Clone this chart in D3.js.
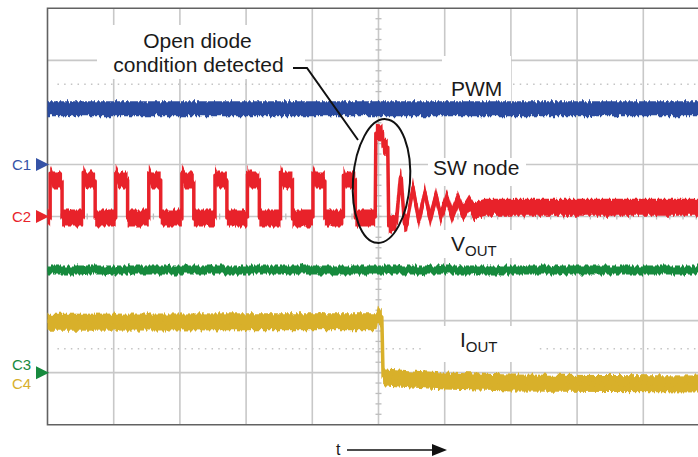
<!DOCTYPE html>
<html>
<head>
<meta charset="utf-8">
<script src="https://cdn.jsdelivr.net/npm/d3@7"></script>
<style>
    body { margin: 0; background: #fff; }
    svg { display: block; font-family: 'Liberation Sans', Arial, Helvetica, sans-serif; }
</style>
</head>
<body>
<svg id="scope"></svg>
<script>
const width = 698;
const height = 457;

// time in screen divisions (0..10), level in divisions (-4..4)
const pwmTrace = [[0, 2.07], [10, 2.07]];
const voutTrace = [[0, -1.03], [10, -1.03]];
const ioutTrace = [
    [0, -2.03], [4.97, -2.02], [4.99, -1.88], [5.05, -1.95], [5.07, -3.08],
    [5.5, -3.12], [6.0, -3.16], [7.0, -3.2], [8.5, -3.21], [10, -3.22]
];

const swLow = -0.03;
const swHigh = 0.7;
const swOvershoot = 0.83;
const pulseStarts = [0.04, 0.54, 1.03, 1.53, 2.03, 2.53, 3.02, 3.52, 4.01, 4.47];
const pulseWidth = 0.18;
const faultTimes = [
    4.95, 4.96, 5.06, 5.07, 5.14, 5.155, 5.27, 5.33, 5.345, 5.39, 5.43,
    5.52, 5.61, 5.70, 5.78, 5.87, 5.94, 6.03, 6.11, 6.20, 6.28, 6.37, 6.44, 6.61, 10
];
const faultLevels = [
    swLow, 1.62, 1.6, 1.33, 1.33, -0.18, -0.1, 0.74, 0.74, -0.16, -0.14,
    0.57, -0.1, 0.47, -0.05, 0.41, -0.01, 0.36, 0.03, 0.32, 0.07, 0.26, 0.11, 0.18, 0.18
];

const channelMarkers = [
    { names: ['C1'], colors: ['#3553a6'], level: 1, arrow: '#3553a6' },
    { names: ['C2'], colors: ['#e8242b'], level: 0, arrow: '#e8242b' },
    { names: ['C3', 'C4'], colors: ['#178a3e', '#d8b02c'], level: -3, arrow: '#178a3e' }
];

const traceColors = { pwm: '#2b4c9f', sw: '#e8242b', vout: '#178a3e', iout: '#d8b02c' };

const svg = d3.select('#scope')
    .attr('width', width)
    .attr('height', height);

const xScale = d3.scaleLinear().domain([0, 10]).range([47.5, 709.5]);
const yScale = d3.scaleLinear().domain([-4, 4]).range([424.7, 8.3]);

// grid
const grid = svg.append('g');

grid.selectAll('line.v')
    .data(d3.range(1, 10))
    .enter()
    .append('line')
    .attr('x1', d => xScale(d)).attr('x2', d => xScale(d))
    .attr('y1', yScale(4)).attr('y2', yScale(-4))
    .attr('stroke', '#c8c8c8').attr('stroke-width', 1.6);

grid.selectAll('line.h')
    .data(d3.range(-3, 4))
    .enter()
    .append('line')
    .attr('x1', xScale(0)).attr('x2', width)
    .attr('y1', d => yScale(d)).attr('y2', d => yScale(d))
    .attr('stroke', '#c8c8c8').attr('stroke-width', 1.6);

grid.selectAll('line.dots')
    .data([2.54, -2.54])
    .enter()
    .append('line')
    .attr('x1', xScale(0.15)).attr('x2', width)
    .attr('y1', d => yScale(d)).attr('y2', d => yScale(d))
    .attr('stroke', '#c4c4c4').attr('stroke-width', 1.4)
    .attr('stroke-dasharray', '1.5 5.2');

// minor ticks on the centre axes
grid.selectAll('line.tx')
    .data(d3.range(1, 50).map(i => i * 0.2))
    .enter()
    .append('line')
    .attr('x1', d => xScale(d)).attr('x2', d => xScale(d))
    .attr('y1', yScale(0) - 3).attr('y2', yScale(0) + 3)
    .attr('stroke', '#bdbdbd').attr('stroke-width', 1.3);

grid.selectAll('line.ty')
    .data(d3.range(-19, 20).map(i => i * 0.2))
    .enter()
    .append('line')
    .attr('x1', xScale(5) - 3).attr('x2', xScale(5) + 3)
    .attr('y1', d => yScale(d)).attr('y2', d => yScale(d))
    .attr('stroke', '#bdbdbd').attr('stroke-width', 1.3);

// white boxes behind labels
const boxes = [
    [97, 25, 208, 54], [442, 56, 69, 45], [428, 158, 98, 28],
    [438, 230, 77, 28], [424, 326, 111, 36]
];
svg.append('g').selectAll('rect')
    .data(boxes)
    .enter()
    .append('rect')
    .attr('x', d => d[0]).attr('y', d => d[1])
    .attr('width', d => d[2]).attr('height', d => d[3])
    .attr('fill', '#fff');

// frame: left, top and bottom
svg.append('path')
    .attr('d', `M${width},${yScale(4)}H${xScale(0)}V${yScale(-4)}H${width}`)
    .attr('fill', 'none')
    .attr('stroke', '#626262')
    .attr('stroke-width', 1.6);

// traces, with a vertical-only jitter filter for the scope noise look
const defs = svg.append('defs');
const noise = defs.append('filter')
    .attr('id', 'noise')
    .attr('x', '-2%').attr('y', '-20%')
    .attr('width', '104%').attr('height', '140%');
noise.append('feTurbulence')
    .attr('type', 'fractalNoise')
    .attr('baseFrequency', '0.45 0.02')
    .attr('numOctaves', 2)
    .attr('seed', 3)
    .attr('result', 'turb');
noise.append('feColorMatrix')
    .attr('in', 'turb')
    .attr('type', 'matrix')
    .attr('values', '0 0 0 0 0.5  0 1 0 0 0  0 0 1 0 0  0 0 0 0 1')
    .attr('result', 'shift');
noise.append('feDisplacementMap')
    .attr('in', 'SourceGraphic')
    .attr('in2', 'shift')
    .attr('scale', 7)
    .attr('xChannelSelector', 'R')
    .attr('yChannelSelector', 'G');

const drawTrace = (points, color, thickness) => {
    const half = thickness / 2;
    const band = d3.area()
        .x(d => xScale(d[0]))
        .y0(d => yScale(d[1]) + half)
        .y1(d => yScale(d[1]) - half);
    const centre = d3.line()
        .x(d => xScale(d[0]))
        .y(d => yScale(d[1]));

    const g = svg.append('g').attr('filter', 'url(#noise)');
    g.append('path')
        .datum(points)
        .attr('d', band)
        .attr('fill', color);
    g.append('path')
        .datum(points)
        .attr('d', centre)
        .attr('fill', 'none')
        .attr('stroke', color)
        .attr('stroke-width', 3.5)
        .attr('stroke-linejoin', 'round');
};

const swTrace = [[0, swLow]];
pulseStarts.forEach(s => {
    swTrace.push([s, swLow], [s, swOvershoot], [s + 0.04, swHigh],
        [s + pulseWidth, swHigh], [s + pulseWidth, swLow]);
});
faultTimes.forEach((t, i) => swTrace.push([t, faultLevels[i]]));

drawTrace(pwmTrace, traceColors.pwm, 15);
drawTrace(voutTrace, traceColors.vout, 9);
drawTrace(ioutTrace, traceColors.iout, 17);
drawTrace(swTrace, traceColors.sw, 17);

// annotation ellipse and leader
svg.append('ellipse')
    .attr('cx', 381.5).attr('cy', 181)
    .attr('rx', 28.5).attr('ry', 62)
    .attr('transform', 'rotate(4 381.5 181)')
    .attr('fill', 'none')
    .attr('stroke', '#111')
    .attr('stroke-width', 2);

svg.append('polyline')
    .attr('points', '293,68 307,68 358,140')
    .attr('fill', 'none')
    .attr('stroke', '#111')
    .attr('stroke-width', 2);

// labels
const labels = svg.append('g')
    .attr('fill', '#1a1a1a')
    .style('font-size', '21px');

labels.append('text').attr('x', 197.5).attr('y', 48)
    .attr('text-anchor', 'middle').text('Open diode');
labels.append('text').attr('x', 198.5).attr('y', 72)
    .attr('text-anchor', 'middle').text('condition detected');
labels.append('text').attr('x', 451).attr('y', 96).text('PWM');
labels.append('text').attr('x', 433).attr('y', 175).text('SW node');

const vout = labels.append('text').attr('x', 451).attr('y', 251);
vout.append('tspan').text('V');
vout.append('tspan').attr('dy', 5).style('font-size', '15px').text('OUT');

const iout = labels.append('text').attr('x', 460).attr('y', 347);
iout.append('tspan').text('I');
iout.append('tspan').attr('dy', 5).style('font-size', '15px').text('OUT');

// channel markers on the left
channelMarkers.forEach(m => {
    const cy = yScale(m.level);
    svg.append('path')
        .attr('d', `M36,${cy - 6.5}L49,${cy}L36,${cy + 6.5}Z`)
        .attr('fill', m.arrow);
    const offsets = m.names.length === 1 ? [5.5] : [-2.5, 16];
    m.names.forEach((n, i) => {
        svg.append('text')
            .attr('x', 12)
            .attr('y', cy + offsets[i])
            .attr('fill', m.colors[i])
            .style('font-size', '15px')
            .text(n);
    });
});

// time arrow
svg.append('text')
    .attr('x', 336)
    .attr('y', 455)
    .attr('fill', '#1a1a1a')
    .style('font-size', '16px')
    .text('t');
svg.append('line')
    .attr('x1', 347).attr('x2', 434)
    .attr('y1', 450).attr('y2', 450)
    .attr('stroke', '#111').attr('stroke-width', 1.6);
svg.append('path')
    .attr('d', 'M432,444L447,450L432,456Z')
    .attr('fill', '#111');
</script>
</body>
</html>
